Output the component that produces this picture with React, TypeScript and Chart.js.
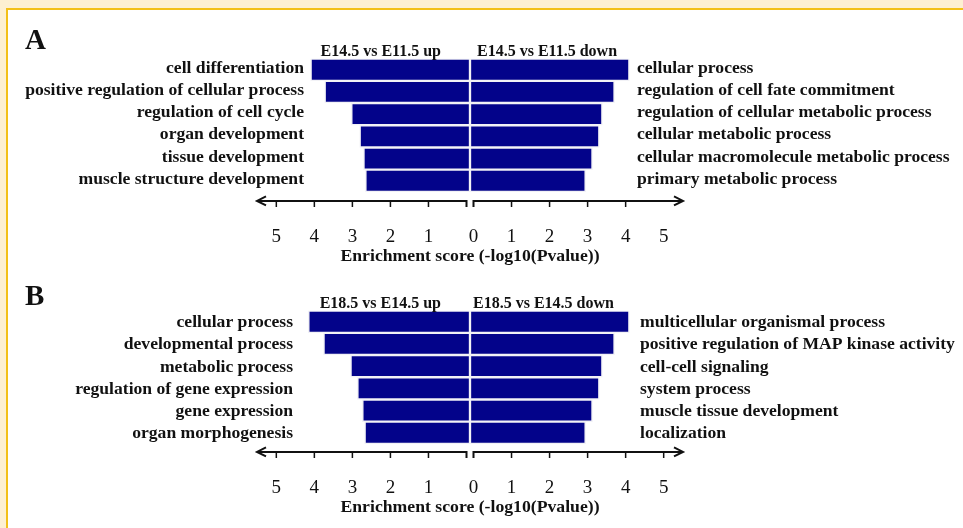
import React, { useEffect, useRef } from "react";
import { Chart, registerables } from "chart.js";

Chart.register(...registerables);

// ---------- data ----------
const xTitle = "Enrichment score (-log10(Pvalue))";
const axisSteps = [1, 2, 3, 4, 5];

const aLetter = "A";
const aUpTitle = "E14.5 vs E11.5 up";
const aDownTitle = "E14.5 vs E11.5 down";
const aUpTerms = [
  "cell differentiation",
  "positive regulation of cellular process",
  "regulation of cell cycle",
  "organ development",
  "tissue development",
  "muscle structure development",
];
const aUpScores = [4.19, 3.82, 3.12, 2.9, 2.8, 2.75];
const aDownTerms = [
  "cellular process",
  "regulation of cell fate commitment",
  "regulation of cellular metabolic process",
  "cellular metabolic process",
  "cellular macromolecule metabolic process",
  "primary metabolic process",
];
const aDownScores = [4.19, 3.8, 3.48, 3.4, 3.22, 3.04];

const bLetter = "B";
const bUpTitle = "E18.5 vs E14.5 up";
const bDownTitle = "E18.5 vs E14.5 down";
const bUpTerms = [
  "cellular process",
  "developmental process",
  "metabolic process",
  "regulation of gene expression",
  "gene expression",
  "organ morphogenesis",
];
const bUpScores = [4.25, 3.85, 3.14, 2.96, 2.83, 2.77];
const bDownTerms = [
  "multicellular organismal process",
  "positive regulation of MAP kinase activity",
  "cell-cell signaling",
  "system process",
  "muscle tissue development",
  "localization",
];
const bDownScores = [4.19, 3.8, 3.48, 3.4, 3.22, 3.04];

// ---------- layout (styles only) ----------
const W = 963;
const SERIF = '"Liberation Serif", "Times New Roman", serif';
const BAR_FILL = "#03038a";
const INK = "#111111";

type PanelCfg = {
  letter: string;
  upTitle: string;
  downTitle: string;
  upTerms: string[];
  upScores: number[];
  downTerms: string[];
  downScores: number[];
  top: number;
  height: number;
  letterBaseline: number;
  labelDy: number;
  leftLabelGap: number;
  rightLabelGap: number;
  downTitleGap: number;
  rightTickCount: number;
  axisGap: number;
};

function makeDecor(p: PanelCfg) {
  return {
    id: "decor" + p.letter,
    afterDatasetsDraw(chart: any) {
      const ctx: CanvasRenderingContext2D = chart.ctx;
      const xs = chart.scales.x;
      const ys = chart.scales.y;
      const area = chart.chartArea;
      const zero = xs.getPixelForValue(0);
      ctx.save();
      ctx.fillStyle = INK;
      ctx.strokeStyle = INK;

      // panel letter
      ctx.font = `bold 29px ${SERIF}`;
      ctx.textAlign = "left";
      ctx.textBaseline = "alphabetic";
      ctx.fillText(p.letter, 25, p.letterBaseline);

      // group titles
      ctx.font = `bold 16px ${SERIF}`;
      ctx.textAlign = "right";
      ctx.fillText(p.upTitle, zero - 29, area.top - 3);
      ctx.textAlign = "left";
      ctx.fillText(p.downTitle, zero + p.downTitleGap, area.top - 3);

      // term labels
      ctx.font = `bold 17.6px ${SERIF}`;
      p.upTerms.forEach((t, i) => {
        const yy = ys.getPixelForValue(i) + p.labelDy;
        ctx.textAlign = "right";
        ctx.fillText(t, zero - p.leftLabelGap, yy);
      });
      p.downTerms.forEach((t, i) => {
        const yy = ys.getPixelForValue(i) + p.labelDy;
        ctx.textAlign = "left";
        ctx.fillText(t, zero + p.rightLabelGap, yy);
      });

      // axis
      const ay = area.bottom + p.axisGap;
      const g = 3.5;
      const leftEnd = area.left;
      const rightEnd = area.right;
      ctx.lineWidth = 2;
      ctx.beginPath();
      ctx.moveTo(leftEnd, ay);
      ctx.lineTo(zero - g, ay);
      ctx.lineTo(zero - g, ay + 6);
      ctx.moveTo(zero + g, ay + 6);
      ctx.lineTo(zero + g, ay);
      ctx.lineTo(rightEnd, ay);
      ctx.stroke();
      // arrow heads
      ctx.beginPath();
      ctx.moveTo(leftEnd + 9, ay - 4.5);
      ctx.lineTo(leftEnd, ay);
      ctx.lineTo(leftEnd + 9, ay + 4.5);
      ctx.moveTo(rightEnd - 9, ay - 4.5);
      ctx.lineTo(rightEnd, ay);
      ctx.lineTo(rightEnd - 9, ay + 4.5);
      ctx.stroke();
      // ticks
      ctx.lineWidth = 1.5;
      ctx.beginPath();
      axisSteps.forEach((k) => {
        const lx = xs.getPixelForValue(-k) - g;
        ctx.moveTo(lx, ay);
        ctx.lineTo(lx, ay + 6);
        if (k <= p.rightTickCount) {
          const rx = xs.getPixelForValue(k) + g;
          ctx.moveTo(rx, ay);
          ctx.lineTo(rx, ay + 6);
        }
      });
      ctx.stroke();

      // tick labels
      ctx.font = `19px ${SERIF}`;
      ctx.textAlign = "center";
      const ty = ay + 41;
      axisSteps.forEach((k) => {
        ctx.fillText(String(k), xs.getPixelForValue(-k) - g, ty);
        ctx.fillText(String(k), xs.getPixelForValue(k) + g, ty);
      });
      ctx.fillText("0", zero + g, ty);

      // axis title
      ctx.font = `bold 17.7px ${SERIF}`;
      ctx.fillText(xTitle, zero, ay + 60);
      ctx.restore();
    },
  };
}

function Panel({ cfg }: { cfg: PanelCfg }) {
  const ref = useRef<HTMLCanvasElement | null>(null);
  useEffect(() => {
    if (!ref.current) return;
    const areaTop = 58.6 + (cfg.top === 0 ? 0 : 252) - cfg.top;
    const areaBottom = areaTop + 133.3;
    const chart = new Chart(ref.current, {
      type: "bar",
      data: {
        labels: cfg.upTerms.map((_, i) => String(i)),
        datasets: [
          {
            label: cfg.upTitle,
            data: cfg.upScores.map((v) => -v),
            backgroundColor: BAR_FILL,
            borderColor: "#f2f2f6",
            borderWidth: 1.5,
            borderSkipped: false,
          },
          {
            label: cfg.downTitle,
            data: cfg.downScores,
            backgroundColor: BAR_FILL,
            borderColor: "#f2f2f6",
            borderWidth: 1.5,
            borderSkipped: false,
          },
        ],
      },
      options: {
        indexAxis: "y",
        responsive: false,
        animation: false,
        events: [],
        layout: {
          padding: {
            left: 257,
            right: W - 683,
            top: areaTop,
            bottom: cfg.height - areaBottom,
          },
        },
        datasets: { bar: { barPercentage: 1, categoryPercentage: 1 } },
        plugins: { legend: { display: false }, tooltip: { enabled: false } },
        scales: {
          x: { type: "linear", min: -5.6, max: 5.6, stacked: true, display: false },
          y: { type: "category", stacked: true, display: false, offset: true },
        },
      },
      plugins: [makeDecor(cfg)],
    } as any);
    return () => chart.destroy();
  }, [cfg]);
  return (
    <canvas
      ref={ref}
      width={W}
      height={cfg.height}
      style={{ position: "absolute", left: 0, top: cfg.top, width: W, height: cfg.height, display: "block" }}
    />
  );
}

const panelA: PanelCfg = {
  letter: aLetter,
  upTitle: aUpTitle,
  downTitle: aDownTitle,
  upTerms: aUpTerms,
  upScores: aUpScores,
  downTerms: aDownTerms,
  downScores: aDownScores,
  top: 0,
  height: 270,
  letterBaseline: 49,
  labelDy: 3,
  leftLabelGap: 166,
  rightLabelGap: 167,
  downTitleGap: 7,
  rightTickCount: 4,
  axisGap: 9,
};

const panelB: PanelCfg = {
  letter: bLetter,
  upTitle: bUpTitle,
  downTitle: bDownTitle,
  upTerms: bUpTerms,
  upScores: bUpScores,
  downTerms: bDownTerms,
  downScores: bDownScores,
  top: 252,
  height: 276,
  letterBaseline: 53,
  labelDy: 5.5,
  leftLabelGap: 177,
  rightLabelGap: 170,
  downTitleGap: 3,
  rightTickCount: 5,
  axisGap: 8,
};

export default function App() {
  return (
    <div
      style={{
        position: "absolute",
        left: 0,
        top: 0,
        width: W,
        height: 528,
        overflow: "hidden",
        background: "#fdf0d2",
      }}
    >
      <div
        style={{
          position: "absolute",
          left: 6,
          top: 8,
          width: W + 20,
          height: 560,
          border: "2.5px solid #f3c018",
          background: "#ffffff",
        }}
      />
      <Panel cfg={panelA} />
      <Panel cfg={panelB} />
    </div>
  );
}
